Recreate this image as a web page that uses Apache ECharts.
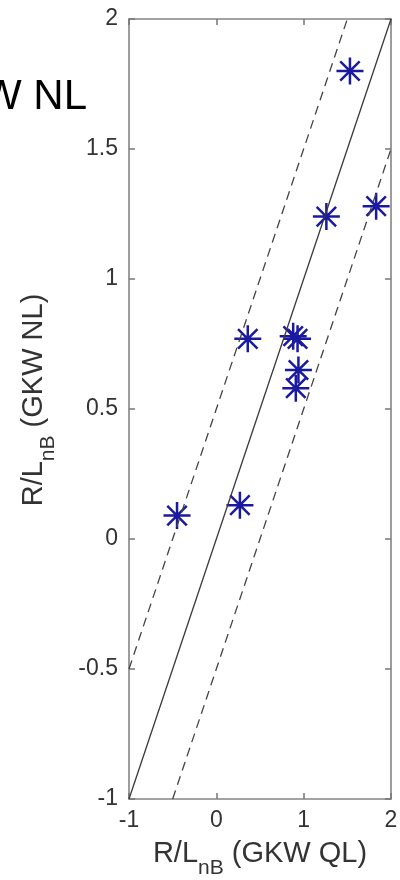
<!DOCTYPE html>
<html>
<head>
<meta charset="utf-8">
<script src="https://cdn.jsdelivr.net/npm/echarts@6/dist/echarts.min.js"></script>
<style>html,body{margin:0;padding:0;background:#fff}#c{width:400px;height:880px}</style>
</head>
<body>
<div id="c"></div>
<script>
// Data
const ptsX = [-0.45, 0.27, 0.36, 0.88, 0.93, 0.94, 0.91, 1.26, 1.83, 1.53];
const ptsY = [0.09, 0.13, 0.77, 0.78, 0.77, 0.65, 0.58, 1.24, 1.28, 1.80];
const diagX = [-1, 2];
const diagY = [-1, 2];
const upperX = [-1, 1.5];
const upperY = [-0.5, 2];
const lowerX = [-0.5, 2];
const lowerY = [-1, 1.5];
const xTicks = [-1, 0, 1, 2];
const yTicks = [-1, -0.5, 0, 0.5, 1, 1.5, 2];

const zip = (a, b) => a.map((v, i) => [v, b[i]]);
const axisCol = '#858585';
const font = 'Liberation Sans, Arial, sans-serif';
const star = 'path://M0,-1L0,1M-1,0L1,0M-0.72,-0.72L0.72,0.72M-0.72,0.72L0.72,-0.72';
const richName = {
  a: {fontSize: 29, fontFamily: font, color: '#333', lineHeight: 31},
  s: {fontSize: 21, fontFamily: font, color: '#333', lineHeight: 21, padding: [30, 0, 0, 0]}
};

const chart = echarts.init(document.getElementById('c'), null, {renderer: 'canvas'});
const baseAxis = {
  min: -1, max: 2,
  axisLine: {show: true, onZero: false, lineStyle: {color: axisCol, width: 1.6}},
  axisTick: {show: true, inside: true, length: 6, lineStyle: {color: '#777', width: 1.5}},
  splitLine: {show: false}
};
chart.setOption({
  animation: false,
  backgroundColor: '#fff',
  grid: {left: 129, right: 9, top: 19, bottom: 81, containLabel: false, outerBoundsMode: 'none'},
  xAxis: [
    Object.assign({}, baseAxis, {
      type: 'value', position: 'bottom', interval: 1,
      axisLabel: {color: '#333', fontSize: 23, fontFamily: font, margin: 10,
        formatter: v => xTicks.includes(v) ? String(v) : ''},
      name: '{a|R/L}{s|nB}{a| (GKW QL)}',
      nameLocation: 'middle', nameGap: 39, nameMoveOverlap: false,
      nameTextStyle: {color: '#333', fontFamily: font, rich: richName}
    }),
    Object.assign({}, baseAxis, {
      type: 'value', position: 'top', interval: 1,
      axisLabel: {show: false}
    })
  ],
  yAxis: [
    Object.assign({}, baseAxis, {
      type: 'value', position: 'left', interval: 0.5,
      axisLabel: {color: '#333', fontSize: 23, fontFamily: font, margin: 11,
        formatter: v => yTicks.includes(v) ? String(v) : ''},
      name: '{a|R/L}{s|nB}{a| (GKW NL)}',
      nameLocation: 'middle', nameGap: 80, nameRotate: 90, nameMoveOverlap: false,
      nameTextStyle: {color: '#333', fontFamily: font, rich: richName, padding: [0, 0, 0, 18]}
    }),
    Object.assign({}, baseAxis, {
      type: 'value', position: 'right', interval: 0.5,
      axisLabel: {show: false}
    })
  ],
  graphic: [{
    type: 'text', right: 313, top: 76,
    style: {text: 'GKW NL', font: '42px ' + font, fill: '#000'}
  }],
  series: [
    {type: 'line', data: zip(diagX, diagY), showSymbol: false, symbol: 'none',
      lineStyle: {color: '#3a3a3a', width: 1.3}, silent: true},
    {type: 'line', data: zip(upperX, upperY), showSymbol: false, symbol: 'none',
      lineStyle: {color: '#444', width: 1.3, type: [9, 6]}, silent: true},
    {type: 'line', data: zip(lowerX, lowerY), showSymbol: false, symbol: 'none',
      lineStyle: {color: '#444', width: 1.3, type: [9, 6]}, silent: true},
    {type: 'scatter', data: zip(ptsX, ptsY), symbol: star, symbolSize: 27,
      itemStyle: {color: 'rgba(0,0,0,0)', borderColor: '#1a1aa0', borderWidth: 2.5, opacity: 1}}
  ]
});
</script>
</body>
</html>
